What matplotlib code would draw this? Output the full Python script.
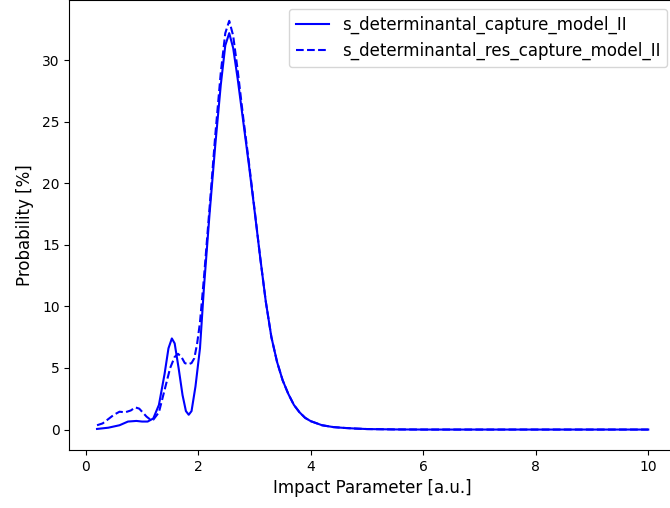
import numpy as np
import matplotlib
matplotlib.use("Agg")
import matplotlib.pyplot as plt

b_cap = [0.2, 0.4, 0.6, 0.75, 0.9, 1.0, 1.1, 1.2, 1.3, 1.4, 1.47, 1.53, 1.58, 1.65,
         1.72, 1.78, 1.83, 1.88, 1.95, 2.03, 2.1, 2.2, 2.3, 2.4, 2.48, 2.55, 2.62,
         2.7, 2.8, 2.9, 3.0, 3.1, 3.2, 3.3, 3.4, 3.5, 3.6, 3.7, 3.8, 3.9, 4.0, 4.2,
         4.4, 4.6, 4.8, 5.0, 5.5, 6.0, 7.0, 8.0, 9.0, 10.0]
p_cap = [0.05, 0.15, 0.35, 0.65, 0.7, 0.65, 0.65, 0.9, 2.0, 4.5, 6.6, 7.4, 7.0, 5.0,
         2.8, 1.5, 1.2, 1.5, 3.5, 6.6, 11.5, 17.5, 23.0, 28.0, 31.2, 32.2, 31.0,
         28.5, 25.0, 21.5, 17.8, 14.0, 10.4, 7.5, 5.5, 4.0, 2.9, 2.0, 1.4, 0.95, 0.68, 0.35,
         0.2, 0.13, 0.08, 0.04, 0.01, 0.0, 0.0, 0.0, 0.0, 0.0]

b_res = [0.2, 0.3, 0.4, 0.5, 0.6, 0.7, 0.8, 0.88, 0.95, 1.02, 1.08, 1.15, 1.2, 1.3,
         1.4, 1.5, 1.58, 1.64, 1.7, 1.76, 1.82, 1.88, 1.93, 1.98, 2.03, 2.1, 2.2,
         2.3, 2.4, 2.48, 2.55, 2.62, 2.7, 2.8, 2.9, 3.0, 3.1, 3.2, 3.3, 3.4, 3.5,
         3.6, 3.7, 3.8, 3.9, 4.0, 4.2, 4.4, 4.6, 4.8, 5.0, 5.5, 6.0, 7.0, 8.0, 9.0, 10.0]
p_res = [0.35, 0.5, 0.85, 1.2, 1.45, 1.4, 1.55, 1.8, 1.7, 1.35, 1.05, 0.8, 0.8, 1.4,
         3.2, 5.0, 5.9, 6.15, 5.9, 5.4, 5.3, 5.4, 5.8, 7.0, 8.7, 12.3, 18.0,
         23.8, 29.0, 32.2, 33.2, 32.0, 29.2, 25.3, 21.7, 17.9, 14.0, 10.4, 7.5, 5.5, 4.0,
         2.9, 2.0, 1.4, 0.95, 0.68, 0.35, 0.2, 0.13, 0.08, 0.04, 0.01, 0.0, 0.0, 0.0, 0.0, 0.0]

fig = plt.figure(figsize=(6.7, 5.08), dpi=100)
ax = fig.add_axes([0.1037, 0.1142, 0.905, 0.885])
ax.plot(b_cap, p_cap, 'b-', label='s_determinantal_capture_model_II')
ax.plot(b_res, p_res, 'b--', label='s_determinantal_res_capture_model_II')
ax.legend(loc='upper right', fontsize=12)
ax.set_xlabel('Impact Parameter [a.u.]', fontsize=12)
ax.set_ylabel('Probability [%]', fontsize=12, labelpad=6)
fig.savefig('out.png', dpi=100)
